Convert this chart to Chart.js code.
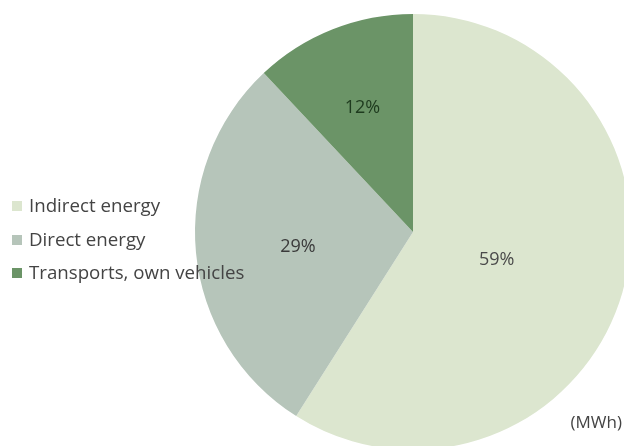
<!DOCTYPE html>
<html>
<head>
<meta charset="utf-8">
<script src="https://cdn.jsdelivr.net/npm/chart.js@4/dist/chart.umd.min.js"></script>
<style>
  html, body { margin: 0; padding: 0; background: #fff; overflow: hidden; }
  #wrap { position: relative; width: 624px; height: 446px; overflow: hidden; }
  #box { position: absolute; left: 0; top: 0; width: 830px; height: 460px; }
  #legend { position: absolute; left: 12px; top: 192px; font-family: "Open Sans", sans-serif; font-size: 18.7px; color: #444; }
  #legend div { height: 33.5px; line-height: 25px; white-space: nowrap; }
  #legend span { display: inline-block; width: 10px; height: 10px; margin-right: 7px; vertical-align: 1px; }
  #unit { position: absolute; right: 2px; top: 410px; font-family: "Open Sans", sans-serif; font-size: 17px; color: #444; }
</style>
</head>
<body>
<div id="wrap">
  <div id="box"><canvas id="pie"></canvas></div>
  <div id="legend"></div>
  <div id="unit">(MWh)</div>
</div>
<script>
// Chart data
const categories = ['Indirect energy', 'Direct energy', 'Transports, own vehicles'];
const shares = [59, 29, 12];
const colors = ['#dce6cf', '#b6c5ba', '#6b9467'];
const labelColors = ['#4a4a4a', '#3a3a3a', '#1e3a1e'];
const labelDist = [0.40, 0.53, 0.63];

// Legend (drawn over the pie, like the original)
const legendEl = document.getElementById('legend');
categories.forEach((name, i) => {
  const row = document.createElement('div');
  row.innerHTML = `<span style="background:${colors[i]}"></span>${name}`;
  legendEl.appendChild(row);
});

// Percent labels inside slices
const sliceLabels = {
  id: 'sliceLabels',
  afterDatasetsDraw(chart) {
    const c = chart.ctx;
    const meta = chart.getDatasetMeta(0);
    c.save();
    c.font = '18px "Open Sans", sans-serif';
    c.textAlign = 'center';
    c.textBaseline = 'middle';
    meta.data.forEach((arc, i) => {
      const mid = (arc.startAngle + arc.endAngle) / 2;
      const r = arc.outerRadius * labelDist[i];
      c.fillStyle = labelColors[i];
      c.fillText(shares[i] + '%', arc.x + Math.cos(mid) * r, arc.y + Math.sin(mid) * r + 4);
    });
    c.restore();
  }
};

new Chart(document.getElementById('pie'), {
  type: 'pie',
  data: {
    labels: categories,
    datasets: [{
      data: shares,
      backgroundColor: colors,
      borderWidth: 0
    }]
  },
  options: {
    responsive: true,
    maintainAspectRatio: false,
    animation: false,
    radius: 218,
    layout: { padding: { left: 0, right: 4, top: 14, bottom: 10 } },
    plugins: {
      legend: { display: false },
      tooltip: { enabled: false }
    }
  },
  plugins: [sliceLabels]
});
</script>
</body>
</html>
